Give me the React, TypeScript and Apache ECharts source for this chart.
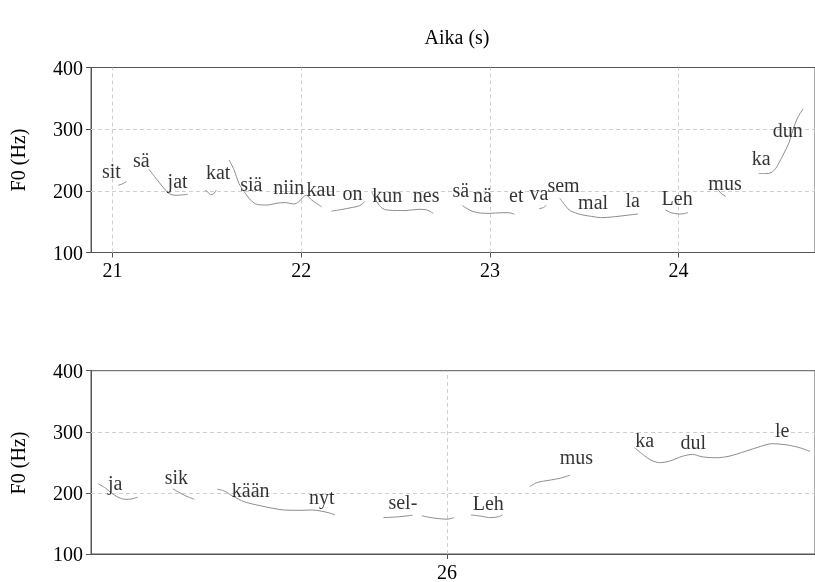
import React, { useEffect, useRef } from 'react';
import * as echarts from 'echarts';

// ---------- Top panel (time in s, F0 in Hz) ----------
const topTicks = [21, 22, 23, 24];
const f0Sit: [number, number][] = [[21.03, 209], [21.05, 211], [21.074, 215]];
const f0SaJat: [number, number][] = [[21.193, 235], [21.223, 223], [21.258, 209.5], [21.284, 200], [21.302, 195], [21.337, 192.7], [21.37, 193.5], [21.398, 194.3]];
const f0Kat: [number, number][] = [[21.49, 201], [21.505, 198], [21.52, 194], [21.535, 195], [21.55, 201]];
const f0SiaNiinKau: [number, number][] = [[21.618, 250], [21.644, 234], [21.67, 212], [21.697, 199], [21.732, 185], [21.767, 178], [21.82, 177], [21.872, 180], [21.916, 181], [21.96, 178.6], [21.986, 182], [22.009, 189.5], [22.027, 193], [22.056, 185], [22.109, 174]];
const f0On: [number, number][] = [[22.16, 167], [22.21, 169.5], [22.27, 173], [22.31, 176], [22.335, 182]];
const f0KunNes: [number, number][] = [[22.375, 198], [22.39, 188], [22.415, 176], [22.44, 170], [22.47, 168.5], [22.55, 168], [22.62, 170], [22.66, 169.5], [22.7, 163.5]];
const f0SaNaEt: [number, number][] = [[22.855, 176], [22.88, 171], [22.91, 166.5], [22.95, 164], [23.0, 163.5], [23.06, 164.5], [23.1, 164.5], [23.13, 162]];
const f0Va: [number, number][] = [[23.26, 171], [23.285, 173], [23.3, 177]];
const f0SemMalLa: [number, number][] = [[23.37, 188], [23.395, 178], [23.42, 169], [23.455, 164], [23.49, 161], [23.54, 158.5], [23.59, 156.5], [23.66, 158], [23.73, 160.5], [23.785, 162.5]];
const f0LehTop: [number, number][] = [[23.93, 169], [23.96, 164.5], [24.0, 162.5], [24.03, 163], [24.05, 165]];
const f0MusTop: [number, number][] = [[24.205, 204], [24.225, 196], [24.25, 191]];
const f0KaDun: [number, number][] = [[24.425, 228], [24.46, 228], [24.49, 229.5], [24.515, 236.5], [24.55, 256], [24.585, 278], [24.605, 298], [24.63, 318], [24.66, 333]];

const topSyllables = ['sit', 'sä', 'jat', 'kat', 'siä', 'niin', 'kau', 'on', 'kun', 'nes', 'sä', 'nä', 'et', 'va', 'sem', 'mal', 'la', 'Leh', 'mus', 'ka', 'dun'];
const topSylTimes = [20.994, 21.153, 21.345, 21.56, 21.736, 21.934, 22.105, 22.272, 22.456, 22.662, 22.846, 22.96, 23.14, 23.26, 23.39, 23.547, 23.757, 23.992, 24.246, 24.438, 24.578];
const topSylHz = [232.9, 250.1, 216.7, 231.3, 211.2, 205.8, 202.6, 197.2, 193.3, 193.3, 201.4, 193.3, 193.3, 197.2, 209.5, 182.6, 185.2, 188, 213.4, 252.8, 298.7];

// ---------- Bottom panel ----------
const bottomTicks = [26];
const f0Ja: [number, number][] = [[25.122, 215], [25.14, 208], [25.155, 200], [25.172, 193], [25.19, 189.5], [25.205, 190], [25.222, 193]];
const f0Sik: [number, number][] = [[25.31, 207], [25.325, 201], [25.343, 195], [25.364, 189.5]];
const f0KaanNyt: [number, number][] = [[25.422, 206], [25.44, 203], [25.46, 195], [25.49, 185.5], [25.53, 179], [25.56, 175], [25.59, 172], [25.63, 171.5], [25.66, 172], [25.685, 170], [25.705, 167], [25.718, 164]];
const f0Sel1: [number, number][] = [[25.84, 159.5], [25.88, 161], [25.913, 163.5]];
const f0Sel2: [number, number][] = [[25.937, 162.5], [25.96, 159.5], [25.985, 157.5], [26.0, 157], [26.018, 159.5]];
const f0LehBottom: [number, number][] = [[26.06, 164], [26.085, 162], [26.11, 159.5], [26.13, 161], [26.14, 164]];
const f0MusBottom: [number, number][] = [[26.208, 210], [26.227, 217], [26.26, 221], [26.285, 224], [26.31, 229]];
const f0KaDulLe: [number, number][] = [[26.472, 274], [26.493, 263], [26.514, 253.5], [26.535, 249.5], [26.56, 252], [26.593, 260], [26.618, 263], [26.643, 259], [26.676, 257.5], [26.71, 260], [26.751, 268], [26.789, 276], [26.818, 280.5], [26.851, 279], [26.885, 274.5], [26.914, 268]];

const bottomSyllables = ['ja', 'sik', 'kään', 'nyt', 'sel-', 'Leh', 'mus', 'ka', 'dul', 'le'];
const bottomSylTimes = [25.165, 25.319, 25.506, 25.685, 25.889, 26.104, 26.326, 26.498, 26.62, 26.844];
const bottomSylHz = [216.8, 226.6, 204.9, 194, 185.4, 184.2, 259.1, 286.3, 283.1, 303.6];

const hGrid = [200, 300];

const FONT = 'Times New Roman';
const CURVE = '#8c8c8c';
const AXIS = '#555555';
const GRIDC = '#cfcfcf';
const TEXT = '#000';

const topSegments = [f0Sit, f0SaJat, f0Kat, f0SiaNiinKau, f0On, f0KunNes, f0SaNaEt, f0Va, f0SemMalLa, f0LehTop, f0MusTop, f0KaDun];
const bottomSegments = [f0Ja, f0Sik, f0KaanNyt, f0Sel1, f0Sel2, f0LehBottom, f0MusBottom, f0KaDulLe];

function segmentSeries(data: [number, number][], idx: number, withGrid: number[] | null) {
  const s: any = {
    type: 'line',
    xAxisIndex: idx,
    yAxisIndex: idx,
    data,
    symbol: 'none',
    smooth: 0.3,
    silent: true,
    z: 3,
    lineStyle: { color: CURVE, width: 1 },
  };
  if (withGrid) {
    s.markLine = {
      silent: true,
      symbol: ['none', 'none'],
      label: { show: false },
      z: 1,
      lineStyle: { color: GRIDC, type: [4, 3], width: 1 },
      data: [...withGrid.map((x) => ({ xAxis: x })), ...hGrid.map((y) => ({ yAxis: y }))],
    };
  }
  return s;
}

function labelSeries(idx: number, names: string[], times: number[], hz: number[]) {
  return {
    type: 'scatter',
    xAxisIndex: idx,
    yAxisIndex: idx,
    symbolSize: 0,
    silent: true,
    z: 5,
    data: names.map((n, i) => ({ name: n, value: [times[i], hz[i]] })),
    label: {
      show: true,
      position: 'inside',
      formatter: '{b}',
      color: TEXT,
      fontSize: 20,
      fontFamily: FONT,
    },
  };
}

function xAxisFor(idx: number, min: number, max: number, ticks: number[], margin: number) {
  return {
    type: 'value',
    gridIndex: idx,
    min,
    max,
    axisLine: { show: true, onZero: false, lineStyle: { color: AXIS, width: 1 } },
    axisTick: { show: true, length: 5, customValues: ticks, lineStyle: { color: AXIS } },
    axisLabel: { customValues: ticks, margin, color: TEXT, fontSize: 20, fontFamily: FONT },
    splitLine: { show: false },
  };
}

function yAxisFor(idx: number) {
  return {
    type: 'value',
    gridIndex: idx,
    min: 100,
    max: 400,
    interval: 100,
    axisLine: { show: true, lineStyle: { color: AXIS, width: 1 } },
    axisTick: { show: true, length: 5, lineStyle: { color: AXIS } },
    axisLabel: { margin: 8, color: TEXT, fontSize: 20, fontFamily: FONT },
    splitLine: { show: false },
  };
}

export default function App() {
  const ref = useRef<HTMLDivElement>(null);
  useEffect(() => {
    if (!ref.current) return;
    const chart = echarts.init(ref.current, undefined, { renderer: 'svg' });
    const topMin = 20.886;
    const topMax = topMin + 729 / 190;
    const botMin = 25.104;
    const botMax = botMin + 729 / 400;
    const series: any[] = [];
    topSegments.forEach((seg, i) => series.push(segmentSeries(seg, 0, i === 0 ? topTicks : null)));
    bottomSegments.forEach((seg, i) => series.push(segmentSeries(seg, 1, i === 0 ? bottomTicks : null)));
    series.push(labelSeries(0, topSyllables, topSylTimes, topSylHz));
    series.push(labelSeries(1, bottomSyllables, bottomSylTimes, bottomSylHz));

    chart.setOption({
      animation: false,
      grid: [
        { left: 91, top: 67.5, width: 729, height: 185, show: true, borderColor: AXIS, borderWidth: 1, backgroundColor: 'transparent' },
        { left: 91, top: 370.7, width: 729, height: 184.3, show: true, borderColor: AXIS, borderWidth: 1, backgroundColor: 'transparent' },
      ],
      xAxis: [xAxisFor(0, topMin, topMax, topTicks, 7), xAxisFor(1, botMin, botMax, bottomTicks, 8)],
      yAxis: [yAxisFor(0), yAxisFor(1)],
      graphic: [
        {
          type: 'text', x: 457, y: 37,
          style: { text: 'Aika (s)', fill: TEXT, fontSize: 20, fontFamily: FONT, align: 'center', verticalAlign: 'middle' },
        },
        {
          type: 'text', x: 18, y: 160, rotation: Math.PI / 2,
          style: { text: 'F0 (Hz)', fill: TEXT, fontSize: 20, fontFamily: FONT, align: 'center', verticalAlign: 'middle' },
        },
        {
          type: 'text', x: 18, y: 463, rotation: Math.PI / 2,
          style: { text: 'F0 (Hz)', fill: TEXT, fontSize: 20, fontFamily: FONT, align: 'center', verticalAlign: 'middle' },
        },
      ],
      series,
    });
    return () => chart.dispose();
  }, []);
  return <div ref={ref} style={{ position: 'fixed', left: 0, top: 0, width: 815, height: 582 }} />;
}
